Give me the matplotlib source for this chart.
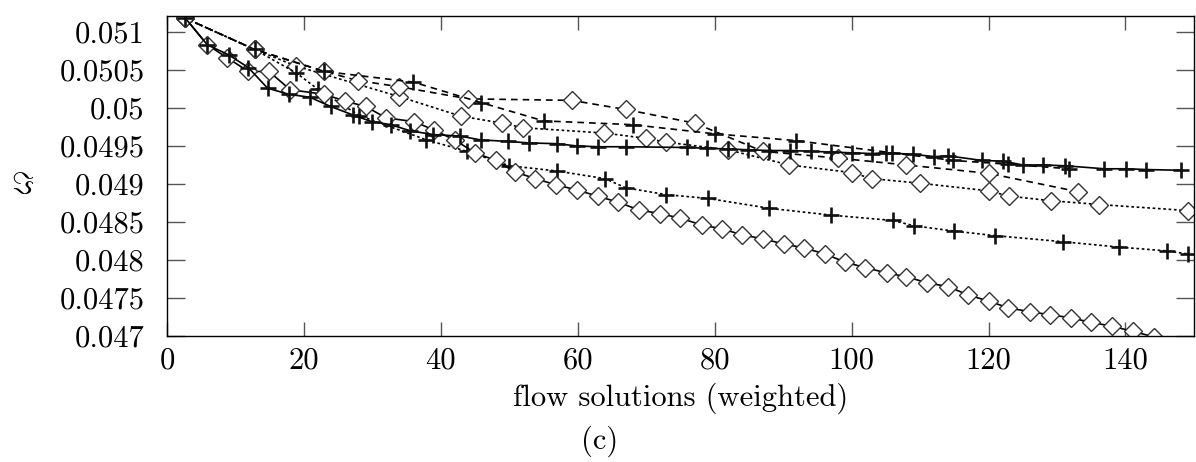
import numpy as np
import matplotlib
matplotlib.use("Agg")
import matplotlib.pyplot as plt

plt.rcParams['font.family'] = ['cmr10', 'DejaVu Serif']
plt.rcParams['mathtext.fontset'] = 'cm'
plt.rcParams['axes.formatter.use_mathtext'] = True

# solid, diamonds
a_x = [2.7, 5.9, 8.8, 11.9, 14.9, 18.0, 23.0, 26.0, 29.0, 32.0, 36.1, 39.0, 42.0, 45.0,
       48.0, 50.8, 53.8, 56.8, 59.9, 62.9, 65.9, 68.9, 72.0, 75.0, 78.1, 81.1, 84.0, 87.0,
       90.1, 93.0, 96.1, 99.1, 102.0, 105.1, 108.0, 111.0, 114.1, 117.0, 120.0, 122.9,
       126.0, 129.0, 132.0, 134.9, 138.0, 141.1, 144.1]
a_y = [0.05118, 0.05083, 0.05066, 0.05048, 0.05048, 0.05024, 0.05018, 0.05009, 0.05002,
       0.04987, 0.04982, 0.04971, 0.04958, 0.04941, 0.04931, 0.04916, 0.04907, 0.04899,
       0.04892, 0.04884, 0.04876, 0.04866, 0.04861, 0.04855, 0.04846, 0.04841, 0.04833,
       0.04828, 0.04821, 0.04816, 0.04808, 0.04797, 0.04790, 0.04783, 0.04778, 0.04770,
       0.04765, 0.04754, 0.04746, 0.04737, 0.04732, 0.04728, 0.04724, 0.04718, 0.04713,
       0.04706, 0.04699]

# solid, plus
b_x = [2.7, 5.9, 9.0, 11.9, 14.7, 17.8, 20.9, 23.9, 27.1, 29.9, 32.7, 35.5, 38.9, 42.8,
       45.8, 49.8, 52.9, 56.9, 59.9, 63.0, 67.0, 75.9, 78.9, 81.9, 84.9, 88.0, 91.0, 94.1,
       97.0, 100.0, 103.0, 105.0, 109.0, 112.1, 114.1, 119.0, 122.1, 125.0, 127.9, 131.1,
       136.9, 140.1, 143.0, 148.1]
b_y = [0.05118, 0.05083, 0.05070, 0.05053, 0.05026, 0.05018, 0.05014, 0.05002, 0.04991,
       0.04982, 0.04978, 0.04970, 0.04965, 0.04963, 0.04958, 0.04956, 0.04954, 0.04953,
       0.04950, 0.04949, 0.04949, 0.04948, 0.04947, 0.04946, 0.04945, 0.04944, 0.04944,
       0.04943, 0.04942, 0.04941, 0.04940, 0.04941, 0.04939, 0.04936, 0.04937, 0.04931,
       0.04930, 0.04925, 0.04925, 0.04924, 0.04920, 0.04920, 0.04919, 0.04918]

# dashed, diamonds
c_x = [2.7, 12.8, 23.0, 27.9, 33.9, 44.0, 59.1, 67.0, 77.1, 87.0, 98.0, 108.0, 120.0, 133.0]
c_y = [0.05118, 0.05077, 0.05048, 0.05036, 0.05028, 0.05012, 0.05010, 0.04998, 0.04980,
       0.04943, 0.04934, 0.04925, 0.04914, 0.04890]

# dashed, plus
d_x = [2.7, 12.8, 23.0, 36.0, 45.9, 55.0, 68.0, 80.0, 91.9, 105.9, 114.8, 122.8, 131.8]
d_y = [0.05118, 0.05077, 0.05048, 0.05034, 0.05007, 0.04983, 0.04978, 0.04966, 0.04957,
       0.04941, 0.04931, 0.04926, 0.04920]

# dotted, diamonds
e_x = [2.7, 12.8, 18.9, 33.9, 43.0, 49.0, 52.0, 63.9, 70.0, 72.9, 81.9, 90.9, 100.0, 103.0,
       110.0, 120.0, 123.0, 129.1, 136.1, 149.1]
e_y = [0.05118, 0.05077, 0.05055, 0.05015, 0.04989, 0.04980, 0.04974, 0.04967, 0.04960,
       0.04955, 0.04945, 0.04925, 0.04915, 0.04907, 0.04901, 0.04891, 0.04884, 0.04878,
       0.04873, 0.04865]

# dotted, plus
f_x = [2.7, 12.8, 18.9, 22.0, 28.1, 37.9, 43.8, 50.0, 57.0, 64.0, 67.0, 72.9, 79.0, 88.0,
       97.0, 106.0, 109.1, 115.0, 121.0, 130.9, 139.0, 146.0, 149.1]
f_y = [0.05118, 0.05077, 0.05046, 0.05025, 0.04990, 0.04958, 0.04943, 0.04924, 0.04917,
       0.04907, 0.04895, 0.04886, 0.04881, 0.04868, 0.04859, 0.04852, 0.04845, 0.04838,
       0.04832, 0.04824, 0.04817, 0.04812, 0.04808]

x_ticks = [0, 20, 40, 60, 80, 100, 120, 140]
y_ticks = [0.047, 0.0475, 0.048, 0.0485, 0.049, 0.0495, 0.05, 0.0505, 0.051]
y_labels = ['0.047', '0.0475', '0.048', '0.0485', '0.049', '0.0495', '0.05', '0.0505', '0.051']

fig = plt.figure(figsize=(11.96, 4.62), dpi=100)
ax = fig.add_axes([0.1396, 0.2727, 0.8587, 0.6927])

dash = (0, (4, 3))
dot = (0, (1.6, 1.6))
diam = dict(marker='D', markersize=9, markerfacecolor='white', markeredgecolor='#333333',
            markeredgewidth=1.0)
plus = dict(marker='+', markersize=12, markeredgecolor='#111111', markeredgewidth=1.9)

ax.plot(e_x, e_y, color='black', lw=1.2, ls=dot, **diam)
ax.plot(f_x, f_y, color='black', lw=1.2, ls=dot, **plus)
ax.plot(c_x, c_y, color='black', lw=1.2, ls=dash, **diam)
ax.plot(d_x, d_y, color='black', lw=1.2, ls=dash, **plus)
ax.plot(a_x, a_y, color='black', lw=1.2, ls='-', **diam)
ax.plot(b_x, b_y, color='black', lw=1.2, ls='-', **plus)

ax.set_xlim(0, 150)
ax.set_ylim(0.047, 0.05121)
ax.set_xticks(x_ticks)
ax.set_xticklabels([str(t) for t in x_ticks])
ax.set_yticks(y_ticks)
ax.set_yticklabels(y_labels)
ax.tick_params(axis='both', direction='in', top=True, right=True, labelsize=22,
               color='#555555', width=1.0)
ax.tick_params(axis='y', length=13, pad=16)
ax.tick_params(axis='x', length=10, pad=8)
for s in ax.spines.values():
    s.set_linewidth(1.0)

ax.set_xlabel('flow solutions (weighted)', fontsize=22, labelpad=6)
fig.text(0.019, 0.60, r'$\Im$', fontsize=22, ha='center', va='center')
fig.text(0.501, 0.045, '(c)', fontsize=22, ha='center', va='center')

fig.savefig('out.png', dpi=100)
